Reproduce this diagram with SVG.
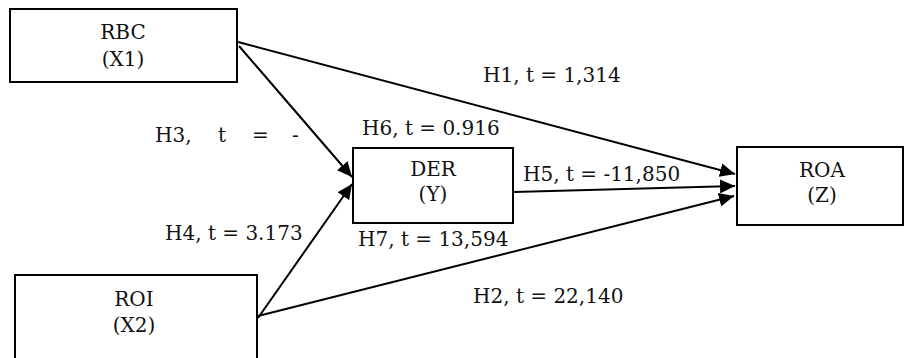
<svg xmlns="http://www.w3.org/2000/svg" width="906" height="358" viewBox="0 0 906 358">
<style>
.box{fill:#fff;stroke:#000;stroke-width:2}
.t{font-family:"DejaVu Serif","Liberation Serif",serif;font-size:20px;fill:#111}
.c{text-anchor:middle}
.ln{stroke:#000;stroke-width:2;fill:none;marker-end:url(#ah)}
</style>
<defs>
<marker id="ah" markerUnits="userSpaceOnUse" markerWidth="16" markerHeight="14" refX="15" refY="7" orient="auto">
<path d="M0,0 L15,7 L0,14 Z" fill="#000"/>
</marker>
</defs>
<rect width="906" height="358" fill="#fff"/>
<g id="connectors">
<line class="ln" x1="238" y1="42" x2="735" y2="174"/>
<line class="ln" x1="239" y1="46" x2="352" y2="177"/>
<line class="ln" x1="258" y1="318" x2="352" y2="184"/>
<line class="ln" x1="258" y1="316" x2="734" y2="196"/>
<line class="ln" x1="514" y1="192" x2="735" y2="186"/>
</g>
<g id="node-rbc">
<rect class="box" x="10" y="9" width="227" height="73"/>
<text class="t c" x="123" y="39">RBC</text>
<text class="t c" x="123" y="66">(X1)</text>
</g>
<g id="node-roi">
<rect class="box" x="15" y="275" width="242" height="90"/>
<text class="t c" x="134" y="306">ROI</text>
<text class="t c" x="134" y="332">(X2)</text>
</g>
<g id="node-der">
<rect class="box" x="353" y="148" width="160" height="75"/>
<text class="t c" x="433" y="176">DER</text>
<text class="t c" x="433" y="201">(Y)</text>
</g>
<g id="node-roa">
<rect class="box" x="737" y="147" width="166" height="78"/>
<text class="t c" x="822" y="177">ROA</text>
<text class="t c" x="822" y="202">(Z)</text>
</g>
<g id="labels">
<text class="t" x="483" y="82">H1, t = 1,314</text>
<text class="t" x="473" y="303">H2, t = 22,140</text>
<text class="t" y="142"><tspan x="155">H3,</tspan><tspan x="218">t</tspan><tspan x="252">=</tspan><tspan x="292">-</tspan></text>
<text class="t" x="165" y="240">H4, t = 3.173</text>
<text class="t" x="523" y="181">H5, t = -11,850</text>
<text class="t" x="362" y="135">H6, t = 0.916</text>
<text class="t" x="358" y="246">H7, t = 13,594</text>
</g>
</svg>
